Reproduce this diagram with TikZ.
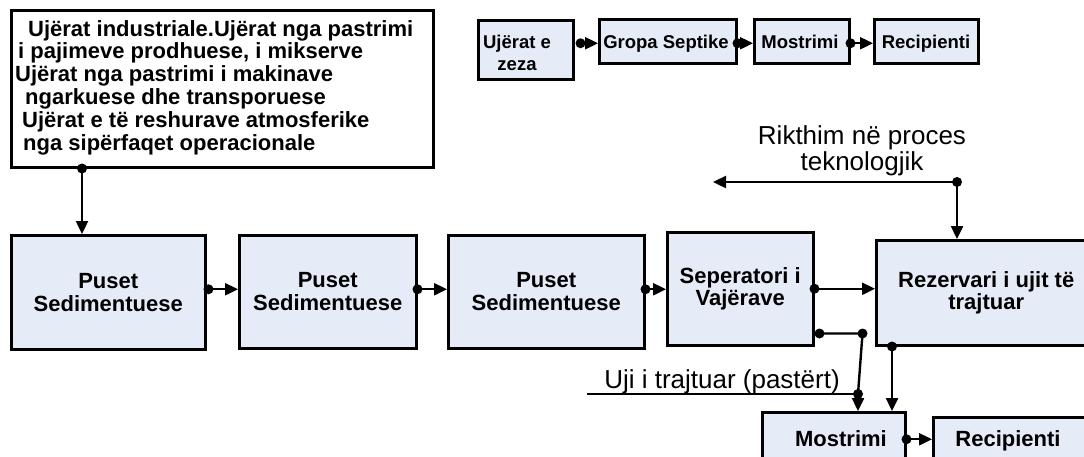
\documentclass[tikz,border=0pt]{standalone}
\usepackage{fontspec}
\setmainfont{Liberation Sans}
\usetikzlibrary{arrows.meta}
\definecolor{boxfill}{RGB}{229,236,247}
\begin{document}
\begin{tikzpicture}[x=1pt,y=-1pt,
  box/.style={draw=black, fill=boxfill, line width=2.5pt, inner sep=0pt, anchor=north west, align=center},
  bigt/.style={font=\fontsize{22}{22.8}\selectfont\bfseries},
  smallt/.style={font=\fontsize{18.5}{22}\selectfont\bfseries},
  regt/.style={font=\fontsize{26}{24}\selectfont},
  conn/.style={line width=2.4pt, -{Triangle[length=13pt,width=12pt]}},
  plainline/.style={line width=2.4pt},
  dotr/.style={fill=black}]
\useasboundingbox (0,0) rectangle (1084,456);
\clip (0,0) rectangle (1084,456);

% source box
\node[box, fill=white, minimum width=422pt, minimum height=157pt] (src) at (10,9) {};
\node[bigt, anchor=north west, inner sep=0pt, align=left] (srct) at (15,20)
 {\hspace*{13pt}Ujërat industriale.Ujërat nga pastrimi\\
  \hspace*{3pt}i pajimeve prodhuese, i mikserve\\
  Ujërat nga pastrimi i makinave\\
  \hspace*{10pt}ngarkuese dhe transporuese\\
  \hspace*{7pt}Ujërat e të reshurave atmosferike\\
  \hspace*{8pt}nga sipërfaqet operacionale};

% top row
\node[box, minimum width=95pt, minimum height=59pt] (zeza) at (477,19) {};
\node[smallt, align=center, inner sep=0pt] (zezat) at (517,53) {Ujërat e\\zeza};
\node[box, minimum width=137pt, minimum height=44pt] (gropa) at (598,18) {};
\node[smallt, inner sep=0pt, anchor=base] (gropat) at (666,48) {Gropa Septike};
\node[box, minimum width=95pt, minimum height=44pt] (most1) at (753,18) {};
\node[smallt, inner sep=0pt, anchor=base] (most1t) at (800,48) {Mostrimi};
\node[box, minimum width=104pt, minimum height=44pt] (rec1) at (873,18) {};
\node[smallt, inner sep=0pt, anchor=base] (rec1t) at (926,48) {Recipienti};

% main row
\node[box, bigt, minimum width=194pt, minimum height=114pt] (p1) at (10,234) {Puset\\Sedimentuese};
\node[box, bigt, minimum width=177pt, minimum height=113pt] (p2) at (238,234) {Puset\\Sedimentuese};
\node[box, bigt, minimum width=196pt, minimum height=113pt] (p3) at (447,234) {Puset\\Sedimentuese};
\node[box, bigt, minimum width=146pt, minimum height=113pt] (sep) at (666,231) {Seperatori i\\Vajërave};
\node[box, bigt, minimum width=220pt, minimum height=105pt] (rez) at (875,239) {Rezervari i ujit të\\trajtuar};

% bottom row
\node[box, minimum width=143pt, minimum height=54pt] (most2) at (761,411) {};
\node[bigt, inner sep=0pt, anchor=base] (most2t) at (841,446) {Mostrimi};
\node[box, minimum width=154pt, minimum height=44pt] (rec2) at (932,416) {};
\node[bigt, inner sep=0pt, anchor=base] (rec2t) at (1008,446) {Recipienti};

% labels
\node[regt, align=center, inner sep=0pt, anchor=base] (rikt) at (862,170) {Rikthim në proces\\teknologjik};
\node[regt, inner sep=0pt, anchor=base] (ujit) at (722,388) {Uji i trajtuar (pastërt)};

% connectors: source -> p1
\path (src.south west) ++(72,0) coordinate (sd);
\draw[conn] (sd) -- (sd |- p1.north);
\fill[dotr] (sd) circle (5);

% top row connectors
\path (zeza.east |- gropa.west) ++(6,2) coordinate (d1);
\draw[conn] (d1) -- (gropa.west |- d1);
\fill[dotr] (d1) circle (5);
\path (gropa.east) ++(0,2) coordinate (d2);
\draw[conn] (d2) -- (most1.west |- d2);
\fill[dotr] (d2) circle (5);
\path (most1.east) ++(0,2) coordinate (d3);
\draw[conn] (d3) -- (rec1.west |- d3);
\fill[dotr] (d3) circle (5);

% main row connectors
\path (p1.east) ++(2,-3) coordinate (e1);
\draw[conn] (e1) -- (p2.west |- e1);
\fill[dotr] (e1) circle (5);
\path (p2.east) ++(0,-2.5) coordinate (e2);
\draw[conn] (e2) -- (p3.west |- e2);
\fill[dotr] (e2) circle (5);
\path (p3.east) ++(0,-2.5) coordinate (e3);
\draw[conn] (e3) -- (sep.west |- e3);
\fill[dotr] (e3) circle (5);
\draw[conn] (sep.east) -- (rez.west |- sep.east);
\fill[dotr] (sep.east) circle (5);

% separator second outlet
\path (sep.south east) ++(5,-13) coordinate (s2);
\path (s2) ++(43,0) coordinate (s3);
\coordinate (uj) at (858,394);
\coordinate (ujstart) at (587,394);
\draw[plainline] (s2) -- (s3) -- (uj);
\draw[plainline] (ujstart) -- (uj);
\draw[conn] (uj) -- (uj |- most2.north);
\fill[dotr] (s2) circle (5);
\fill[dotr] (s3) circle (5);
\fill[dotr] (uj) circle (5);

% reservoir outlet
\path (rez.south west) ++(17,0) coordinate (r1);
\draw[conn] (r1) -- (r1 |- most2.north);
\fill[dotr] (r1) circle (5);

% recirculation
\path (rez.north west) ++(82,-57) coordinate (rk);
\coordinate (rkend) at (713,182);
\draw[conn] (rk) -- (rk |- rez.north);
\draw[conn] (rk) -- (rkend);
\fill[dotr] (rk) circle (5);

% bottom
\draw[conn] (most2.east) -- (rec2.west |- most2.east);
\fill[dotr] (most2.east) circle (5);
\end{tikzpicture}
\end{document}
